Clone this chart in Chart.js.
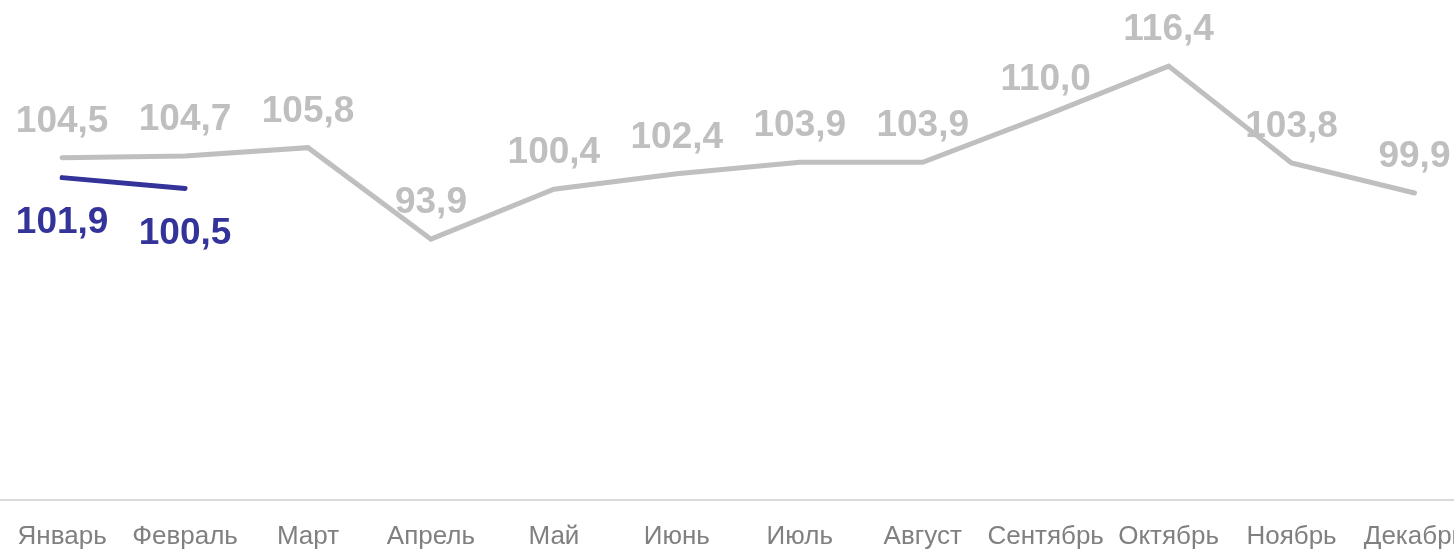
<!DOCTYPE html>
<html>
<head>
<meta charset="utf-8">
<script src="https://cdn.jsdelivr.net/npm/chart.js@4"></script>
<style>
  html, body { margin: 0; padding: 0; background: #ffffff; overflow: hidden; }
  #wrap { position: relative; width: 1489px; height: 573px; margin-left: -3px; }
</style>
</head>
<body>
<div id="wrap"><canvas id="c"></canvas></div>
<script>
const categories = ['Январь','Февраль','Март','Апрель','Май','Июнь','Июль','Август','Сентябрь','Октябрь','Ноябрь','Декабрь'];
const prevYear = [104.5, 104.7, 105.8, 93.9, 100.4, 102.4, 103.9, 103.9, 110.0, 116.4, 103.8, 99.9];
const curYear = [101.9, 100.5, null, null, null, null, null, null, null, null, null, null];

const fmt = v => v.toFixed(1).replace('.', ',');

const labelPlugin = {
  id: 'valueLabels',
  afterDatasetsDraw(chart) {
    const ctx = chart.ctx;
    chart.data.datasets.forEach((ds, di) => {
      const meta = chart.getDatasetMeta(di);
      const off = ds.labelOffset;
      ctx.save();
      ctx.font = 'bold 37px "Liberation Sans", Arial, sans-serif';
      ctx.fillStyle = ds.labelColor;
      ctx.textAlign = 'center';
      ctx.textBaseline = 'middle';
      meta.data.forEach((pt, i) => {
        const v = ds.data[i];
        if (v === null || v === undefined) return;
        ctx.fillText(fmt(v), pt.x, pt.y + off);
      });
      ctx.restore();
    });
  }
};

new Chart(document.getElementById('c'), {
  type: 'line',
  data: {
    labels: categories,
    datasets: [
      {
        label: 'prev',
        data: prevYear,
        borderColor: '#bfbfbf',
        borderWidth: 5,
        pointRadius: 0,
        borderCapStyle: 'round',
        borderJoinStyle: 'miter',
        tension: 0,
        labelColor: '#bfbfbf',
        labelOffset: -36
      },
      {
        label: 'cur',
        data: curYear,
        borderColor: '#333399',
        borderWidth: 5,
        pointRadius: 0,
        borderCapStyle: 'round',
        tension: 0,
        labelColor: '#333399',
        labelOffset: 45
      }
    ]
  },
  options: {
    responsive: true,
    maintainAspectRatio: false,
    animation: false,
    layout: { padding: 0 },
    plugins: { legend: { display: false }, tooltip: { enabled: false } },
    scales: {
      x: {
        offset: true,
        grid: { display: false, drawTicks: false },
        border: { display: true, color: '#d9d9d9', width: 2 },
        ticks: {
          color: '#808080',
          font: { family: '"Liberation Sans", Arial, sans-serif', size: 26 },
          padding: 21,
          maxRotation: 0,
          autoSkip: false
        }
      },
      y: {
        display: false,
        min: 60,
        max: 125
      }
    }
  },
  plugins: [labelPlugin]
});
</script>
</body>
</html>
